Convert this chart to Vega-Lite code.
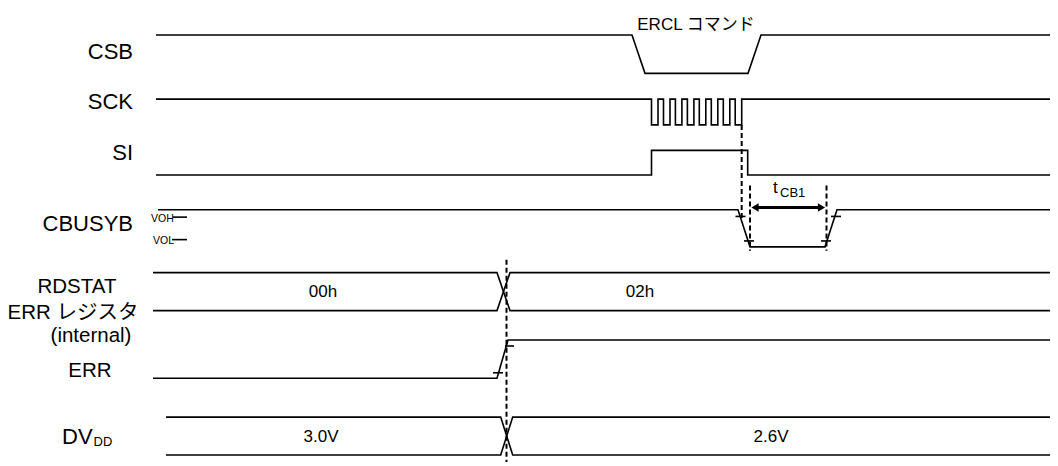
{
  "$schema": "https://vega.github.io/schema/vega-lite/v6.json",
  "width": 1058,
  "height": 466,
  "autosize": {"type": "fit", "contains": "padding"},
  "padding": 0,
  "background": "white",
  "config": {"view": {"stroke": null}, "font": "Liberation Sans, Arial, Noto Sans CJK JP, sans-serif"},
  "datasets": {
    "wave": [
      {"s": "csb", "i": 0, "x": 156, "y": 35.3}, {"s": "csb", "i": 1, "x": 632, "y": 35.3}, {"s": "csb", "i": 2, "x": 645, "y": 74}, {"s": "csb", "i": 3, "x": 748, "y": 74}, {"s": "csb", "i": 4, "x": 761, "y": 35.3}, {"s": "csb", "i": 5, "x": 1050, "y": 35.3},
      {"s": "sck", "i": 0, "x": 156, "y": 100},
      {"s": "sck", "i": 1, "x": 651.5, "y": 100}, {"s": "sck", "i": 2, "x": 651.5, "y": 126}, {"s": "sck", "i": 3, "x": 658, "y": 126}, {"s": "sck", "i": 4, "x": 658, "y": 100},
      {"s": "sck", "i": 5, "x": 663.5, "y": 100}, {"s": "sck", "i": 6, "x": 663.5, "y": 126}, {"s": "sck", "i": 7, "x": 670, "y": 126}, {"s": "sck", "i": 8, "x": 670, "y": 100},
      {"s": "sck", "i": 9, "x": 675.4, "y": 100}, {"s": "sck", "i": 10, "x": 675.4, "y": 126}, {"s": "sck", "i": 11, "x": 681.9, "y": 126}, {"s": "sck", "i": 12, "x": 681.9, "y": 100},
      {"s": "sck", "i": 13, "x": 687.4, "y": 100}, {"s": "sck", "i": 14, "x": 687.4, "y": 126}, {"s": "sck", "i": 15, "x": 693.9, "y": 126}, {"s": "sck", "i": 16, "x": 693.9, "y": 100},
      {"s": "sck", "i": 17, "x": 699.3, "y": 100}, {"s": "sck", "i": 18, "x": 699.3, "y": 126}, {"s": "sck", "i": 19, "x": 705.8, "y": 126}, {"s": "sck", "i": 20, "x": 705.8, "y": 100},
      {"s": "sck", "i": 21, "x": 711.3, "y": 100}, {"s": "sck", "i": 22, "x": 711.3, "y": 126}, {"s": "sck", "i": 23, "x": 717.8, "y": 126}, {"s": "sck", "i": 24, "x": 717.8, "y": 100},
      {"s": "sck", "i": 25, "x": 723.3, "y": 100}, {"s": "sck", "i": 26, "x": 723.3, "y": 126}, {"s": "sck", "i": 27, "x": 729.8, "y": 126}, {"s": "sck", "i": 28, "x": 729.8, "y": 100},
      {"s": "sck", "i": 29, "x": 735.2, "y": 100}, {"s": "sck", "i": 30, "x": 735.2, "y": 126}, {"s": "sck", "i": 31, "x": 741.7, "y": 126}, {"s": "sck", "i": 32, "x": 741.7, "y": 100},
      {"s": "sck", "i": 33, "x": 1050, "y": 100},
      {"s": "si", "i": 0, "x": 156, "y": 176.5}, {"s": "si", "i": 1, "x": 651.5, "y": 176.5}, {"s": "si", "i": 2, "x": 651.5, "y": 151.7}, {"s": "si", "i": 3, "x": 747.7, "y": 151.7}, {"s": "si", "i": 4, "x": 747.7, "y": 176.5}, {"s": "si", "i": 5, "x": 1050, "y": 176.5},
      {"s": "cb", "i": 0, "x": 158, "y": 211.5}, {"s": "cb", "i": 1, "x": 738, "y": 211.5}, {"s": "cb", "i": 2, "x": 750, "y": 249}, {"s": "cb", "i": 3, "x": 825, "y": 249}, {"s": "cb", "i": 4, "x": 837, "y": 211.5}, {"s": "cb", "i": 5, "x": 1050, "y": 211.5},
      {"s": "cbt1", "i": 0, "x": 735.5, "y": 218.3}, {"s": "cbt1", "i": 1, "x": 745.5, "y": 218.3},
      {"s": "cbt2", "i": 0, "x": 744, "y": 243}, {"s": "cbt2", "i": 1, "x": 754, "y": 243},
      {"s": "cbt3", "i": 0, "x": 821, "y": 243}, {"s": "cbt3", "i": 1, "x": 831, "y": 243},
      {"s": "cbt4", "i": 0, "x": 831, "y": 218.3}, {"s": "cbt4", "i": 1, "x": 841, "y": 218.3},
      {"s": "voh", "i": 0, "x": 173, "y": 219}, {"s": "voh", "i": 1, "x": 187, "y": 219},
      {"s": "vol", "i": 0, "x": 172, "y": 241.7}, {"s": "vol", "i": 1, "x": 187, "y": 241.7},
      {"s": "rdA", "i": 0, "x": 153, "y": 275}, {"s": "rdA", "i": 1, "x": 497, "y": 275}, {"s": "rdA", "i": 2, "x": 510, "y": 313.3}, {"s": "rdA", "i": 3, "x": 1050, "y": 313.3},
      {"s": "rdB", "i": 0, "x": 153, "y": 313.3}, {"s": "rdB", "i": 1, "x": 497, "y": 313.3}, {"s": "rdB", "i": 2, "x": 510, "y": 275}, {"s": "rdB", "i": 3, "x": 1050, "y": 275},
      {"s": "err", "i": 0, "x": 153, "y": 381.5}, {"s": "err", "i": 1, "x": 497, "y": 381.5}, {"s": "err", "i": 2, "x": 508, "y": 343}, {"s": "err", "i": 3, "x": 1050, "y": 343},
      {"s": "errt1", "i": 0, "x": 493, "y": 376}, {"s": "errt1", "i": 1, "x": 503, "y": 376},
      {"s": "errt2", "i": 0, "x": 505, "y": 349}, {"s": "errt2", "i": 1, "x": 514, "y": 349},
      {"s": "dvA", "i": 0, "x": 166, "y": 420.7}, {"s": "dvA", "i": 1, "x": 500.7, "y": 420.7}, {"s": "dvA", "i": 2, "x": 512.7, "y": 459}, {"s": "dvA", "i": 3, "x": 1050, "y": 459},
      {"s": "dvB", "i": 0, "x": 166, "y": 459}, {"s": "dvB", "i": 1, "x": 500.7, "y": 459}, {"s": "dvB", "i": 2, "x": 512.7, "y": 420.7}, {"s": "dvB", "i": 3, "x": 1050, "y": 420.7}
    ],
    "dashes": [
      {"s": "d1", "i": 0, "x": 741.7, "y": 126}, {"s": "d1", "i": 1, "x": 741.7, "y": 221},
      {"s": "d2", "i": 0, "x": 750, "y": 187}, {"s": "d2", "i": 1, "x": 750, "y": 253},
      {"s": "d3", "i": 0, "x": 826.5, "y": 187}, {"s": "d3", "i": 1, "x": 826.5, "y": 253},
      {"s": "d4", "i": 0, "x": 506.5, "y": 262}, {"s": "d4", "i": 1, "x": 506.5, "y": 466}
    ],
    "arrow": [
      {"s": "a", "i": 0, "x": 756, "y": 209.3}, {"s": "a", "i": 1, "x": 820, "y": 209.3}
    ],
    "heads": [
      {"dir": "left", "x": 755, "y": 209.3}, {"dir": "right", "x": 821.5, "y": 209.3}
    ],
    "labelsRight": [
      {"t": "CSB", "x": 133, "y": 60}, {"t": "SCK", "x": 133, "y": 110}, {"t": "SI", "x": 133, "y": 161}, {"t": "CBUSYB", "x": 133, "y": 233}
    ],
    "labelsCenter": [
      {"t": "RDSTAT", "x": 77, "y": 296}, {"t": "ERR レジスタ", "x": 73, "y": 322}, {"t": "(internal)", "x": 91, "y": 345}, {"t": "ERR", "x": 90, "y": 380}
    ],
    "labelsLeft": [
      {"t": "DV", "x": 62, "y": 448}
    ],
    "values": [
      {"t": "00h", "x": 323, "y": 300}, {"t": "02h", "x": 640, "y": 300}, {"t": "3.0V", "x": 321, "y": 446}, {"t": "2.6V", "x": 771, "y": 446}, {"t": "ERCL コマンド", "x": 696, "y": 30}
    ],
    "small": [
      {"t": "VOH", "x": 151, "y": 223.5}, {"t": "VOL", "x": 153, "y": 246}
    ],
    "subs": [
      {"t": "DD", "x": 93.5, "y": 449.5}, {"t": "CB1", "x": 780, "y": 198.3}
    ],
    "tmain": [
      {"t": "t", "x": 773, "y": 195}
    ]
  },
  "encoding": {
    "x": {"field": "x", "type": "quantitative", "scale": {"domain": [0, 1058], "nice": false, "zero": false}, "axis": null},
    "y": {"field": "y", "type": "quantitative", "scale": {"domain": [0, 466], "reverse": true, "nice": false, "zero": false}, "axis": null}
  },
  "layer": [
    {
      "data": {"name": "wave"},
      "mark": {"type": "line", "color": "black", "strokeWidth": 1.6, "strokeJoin": "miter"},
      "encoding": {"detail": {"field": "s"}, "order": {"field": "i", "type": "quantitative"}}
    },
    {
      "data": {"name": "dashes"},
      "mark": {"type": "line", "color": "black", "strokeWidth": 2, "strokeDash": [5, 3]},
      "encoding": {"detail": {"field": "s"}, "order": {"field": "i", "type": "quantitative"}}
    },
    {
      "data": {"name": "arrow"},
      "mark": {"type": "line", "color": "black", "strokeWidth": 2.8},
      "encoding": {"detail": {"field": "s"}, "order": {"field": "i", "type": "quantitative"}}
    },
    {
      "data": {"name": "heads"},
      "mark": {"type": "point", "filled": true, "color": "black", "opacity": 1, "size": 70},
      "encoding": {"shape": {"field": "dir", "type": "nominal", "scale": {"domain": ["left", "right"], "range": ["triangle-left", "triangle-right"]}, "legend": null}}
    },
    {
      "data": {"name": "labelsRight"},
      "mark": {"type": "text", "align": "right", "baseline": "alphabetic", "fontSize": 22, "color": "black"},
      "encoding": {"text": {"field": "t"}}
    },
    {
      "data": {"name": "labelsCenter"},
      "mark": {"type": "text", "align": "center", "baseline": "alphabetic", "fontSize": 20.5, "color": "black"},
      "encoding": {"text": {"field": "t"}}
    },
    {
      "data": {"name": "labelsLeft"},
      "mark": {"type": "text", "align": "left", "baseline": "alphabetic", "fontSize": 22, "color": "black"},
      "encoding": {"text": {"field": "t"}}
    },
    {
      "data": {"name": "values"},
      "mark": {"type": "text", "align": "center", "baseline": "alphabetic", "fontSize": 17, "color": "black"},
      "encoding": {"text": {"field": "t"}}
    },
    {
      "data": {"name": "small"},
      "mark": {"type": "text", "align": "left", "baseline": "alphabetic", "fontSize": 10.5, "color": "black"},
      "encoding": {"text": {"field": "t"}}
    },
    {
      "data": {"name": "subs"},
      "mark": {"type": "text", "align": "left", "baseline": "alphabetic", "fontSize": 13, "color": "black"},
      "encoding": {"text": {"field": "t"}}
    },
    {
      "data": {"name": "tmain"},
      "mark": {"type": "text", "align": "left", "baseline": "alphabetic", "fontSize": 17, "color": "black"},
      "encoding": {"text": {"field": "t"}}
    }
  ]
}
